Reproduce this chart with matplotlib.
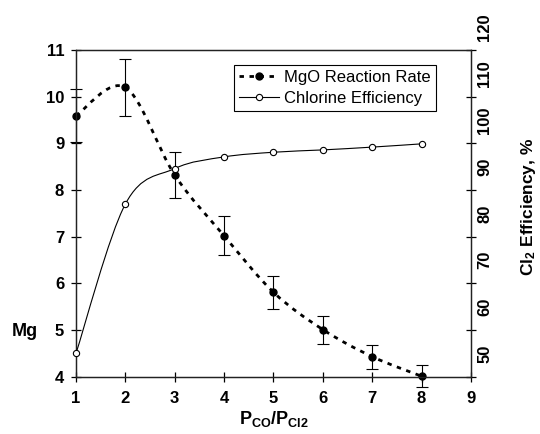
import matplotlib
matplotlib.use("Agg")
import matplotlib.pyplot as plt
from matplotlib.path import Path
from matplotlib.patches import PathPatch
from matplotlib.lines import Line2D
import matplotlib.transforms as mtransforms

plt.rcParams['font.family'] = ['Liberation Sans', 'DejaVu Sans']
plt.rcParams['mathtext.fontset'] = 'custom'
plt.rcParams['mathtext.rm'] = 'Liberation Sans'
plt.rcParams['mathtext.bf'] = 'Liberation Sans:bold'

# data
ratio = [1, 2, 3, 4, 5, 6, 7, 8]
mgo_rate = [9.59, 10.20, 8.32, 7.02, 5.81, 5.01, 4.43, 4.01]
mgo_err = [0.57, 0.61, 0.50, 0.42, 0.35, 0.30, 0.26, 0.24]
cl2_eff = [50.0, 82.0, 89.6, 92.1, 93.1, 93.6, 94.2, 94.9]

left_ticks = [4, 5, 6, 7, 8, 9, 10, 11]
right_marks = [45, 55, 65, 75, 85, 95, 105, 115]
right_labels = [50, 60, 70, 80, 90, 100, 110, 120]


def smooth_path(xs, ys):
    # Catmull-Rom style smoothing, drawn as bezier segments
    pts = list(zip(xs, ys))
    verts = [pts[0]]
    codes = [Path.MOVETO]
    for i in range(len(pts) - 1):
        p0 = pts[i - 1] if i > 0 else pts[i]
        p1 = pts[i]
        p2 = pts[i + 1]
        p3 = pts[i + 2] if i + 2 < len(pts) else pts[i + 1]
        c1 = (p1[0] + (p2[0] - p0[0]) / 6, p1[1] + (p2[1] - p0[1]) / 6)
        c2 = (p2[0] - (p3[0] - p1[0]) / 6, p2[1] - (p3[1] - p1[1]) / 6)
        verts += [c1, c2, p2]
        codes += [Path.CURVE4] * 3
    return Path(verts, codes)


fig = plt.figure(figsize=(5.4, 4.34), dpi=100)
ax = fig.add_axes([0.1407, 0.132, 0.7315, 0.7527])
ax2 = ax.twinx()

ax.set_xlim(1, 9)
ax.set_ylim(4, 11)
ax2.set_ylim(45, 115)

# MgO reaction rate: dashed smooth curve, filled points, error bars
dash = (0, (1.6, 2.0))
ax.add_patch(PathPatch(smooth_path(ratio, mgo_rate), facecolor='none',
                       edgecolor='black', lw=2.0, linestyle=dash,
                       capstyle='butt', clip_on=False, zorder=3))
ax.errorbar(ratio, mgo_rate, yerr=mgo_err, fmt='none', ecolor='black',
            elinewidth=0.8, capsize=4, capthick=0.8, clip_on=False, zorder=3)
ax.plot(ratio, mgo_rate, 'o', color='black', ms=5, clip_on=False, zorder=4)

# chlorine efficiency: thin smooth curve with open circles
ax2.add_patch(PathPatch(smooth_path(ratio, cl2_eff), facecolor='none',
                        edgecolor='black', lw=0.8, clip_on=False, zorder=3))
ax2.plot(ratio, cl2_eff, 'o', mfc='white', mec='black', mew=0.8, ms=4.5,
         clip_on=False, zorder=4)

# axes styling
for a in (ax, ax2):
    for s in a.spines.values():
        s.set_linewidth(0.9)
        s.set_color('#222222')

ax.set_xticks(range(1, 10))
ax.set_yticks(left_ticks)
ax.tick_params(axis='both', direction='inout', length=7, width=0.9,
               labelsize=12, pad=5)
ax.tick_params(axis='x', pad=7)
for lab in ax.get_xticklabels() + ax.get_yticklabels():
    lab.set_fontweight('bold')

ax2.set_yticks(right_marks)
ax2.set_yticklabels([])
ax2.tick_params(axis='y', direction='inout', length=7, width=0.9)
trans = mtransforms.blended_transform_factory(ax2.transAxes, ax2.transData)
for v in right_labels:
    ax2.text(1.035, v, str(v), transform=trans, rotation=90, ha='center',
             va='center', fontsize=12, fontweight='bold', clip_on=False)

ax.set_xlabel(r'$\mathbf{P}_{\mathbf{CO}}\mathbf{/P}_{\mathbf{Cl2}}$',
              fontsize=13, va='center')
ax.xaxis.set_label_coords(0.5, -0.13)
ax.set_ylabel('Mg', rotation=0, fontsize=13, fontweight='bold',
              ha='center', va='center')
ax.yaxis.set_label_coords(-0.13, 0.138)
ax2.set_ylabel(r'$\mathbf{Cl_2}$ Efficiency, %', fontsize=12.5,
               fontweight='bold', rotation=90, ha='center', va='center')
ax2.yaxis.set_label_coords(1.146, 0.52)

handles = [
    Line2D([], [], color='black', lw=2.0, linestyle=dash, marker='o', ms=5),
    Line2D([], [], color='black', lw=0.8, marker='o', mfc='white',
           mec='black', mew=0.8, ms=4.5),
]
leg = ax.legend(handles, ['MgO Reaction Rate', 'Chlorine Efficiency'],
                loc='upper right', bbox_to_anchor=(0.911, 0.954),
                borderaxespad=0, fancybox=False, edgecolor='black',
                framealpha=1, fontsize=12, handlelength=2.4,
                handletextpad=0.3, labelspacing=0.35, borderpad=0.3)
leg.get_frame().set_linewidth(0.8)
leg.set_zorder(5)

fig.savefig('out.png', dpi=100)
